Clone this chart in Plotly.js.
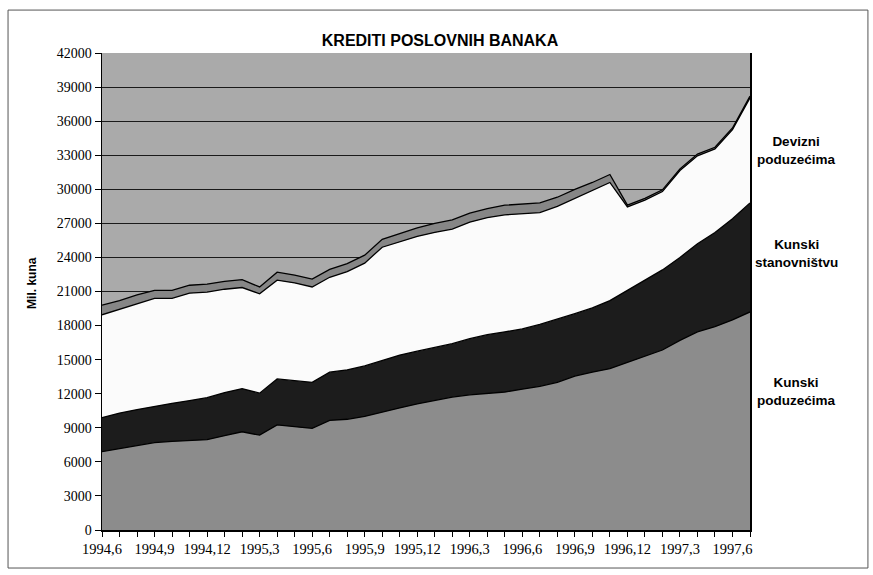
<!DOCTYPE html>
<html>
<head>
<meta charset="utf-8">
<script src="https://cdn.plot.ly/plotly-3.0.1.min.js"></script>
<style>
  html, body { margin: 0; padding: 0; background: #ffffff; }
  #chart { width: 873px; height: 575px; }
</style>
</head>
<body>
<div id="chart"></div>
<script>
// Categories: monthly, 1994,6 .. 1997,7
const months = [
  "1994,6","1994,7","1994,8","1994,9","1994,10","1994,11","1994,12",
  "1995,1","1995,2","1995,3","1995,4","1995,5","1995,6","1995,7","1995,8","1995,9","1995,10","1995,11","1995,12",
  "1996,1","1996,2","1996,3","1996,4","1996,5","1996,6","1996,7","1996,8","1996,9","1996,10","1996,11","1996,12",
  "1997,1","1997,2","1997,3","1997,4","1997,5","1997,6","1997,7"
];

// Series values (mil. kuna), stacked from bottom to top
const kunskiPoduzecima = [6900,7150,7450,7700,7800,7900,7950,8300,8650,8350,9250,9100,8950,9650,9750,10000,10400,10750,11100,11400,11700,11900,12050,12150,12400,12650,13000,13550,13900,14200,14750,15300,15850,16700,17450,17900,18500,19200];
const kunskiStanovnistvu = [3000,3150,3150,3200,3350,3500,3700,3800,3800,3700,4050,4050,4050,4250,4350,4450,4550,4650,4650,4650,4700,4950,5150,5300,5300,5450,5550,5500,5650,6000,6350,6700,7050,7300,7750,8300,8900,9600];
const devizniPoduzecima = [9050,9150,9350,9500,9250,9450,9300,9100,8900,8750,8700,8600,8400,8350,8650,9050,9950,10000,10100,10150,10100,10250,10300,10300,10150,9850,9950,10150,10350,10400,7350,7050,6900,7650,7750,7350,7850,9250];
const ostalo = [850,750,750,700,700,700,700,700,700,600,700,700,700,700,700,700,700,700,750,800,800,800,800,850,850,850,800,800,700,700,150,150,150,150,150,150,150,150];

// Tick labels every three months
const tickLabelStep = 3;
const yTicks = [0,3000,6000,9000,12000,15000,18000,21000,24000,27000,30000,33000,36000,39000,42000];

const idx = months.map((m, i) => i);
const tickText = months.map((m, i) => (i % tickLabelStep === 0 ? m : ""));

function layer(name, values, fill) {
  return {
    type: "scatter",
    mode: "lines",
    name: name,
    x: idx,
    y: values,
    stackgroup: "one",
    fillcolor: fill,
    line: { color: "#000000", width: 1.3, shape: "linear" },
    hoverinfo: "name+y",
    showlegend: false
  };
}

const data = [
  layer("Kunski poduzećima", kunskiPoduzecima, "#8c8c8c"),
  layer("Kunski stanovništvu", kunskiStanovnistvu, "#1c1c1c"),
  layer("Devizni poduzećima", devizniPoduzecima, "#fbfbfb"),
  layer("Ostalo", ostalo, "#868686")
];

const serif = "Liberation Serif, Times New Roman, serif";
const sans = "Liberation Sans, Arial, sans-serif";

const layout = {
  width: 873,
  height: 575,
  margin: { l: 102, r: 123, t: 53, b: 45, pad: 0 },
  paper_bgcolor: "#ffffff",
  plot_bgcolor: "#aaaaaa",
  showlegend: false,
  title: {
    text: "<b>KREDITI POSLOVNIH BANAKA</b>",
    font: { family: sans, size: 16, color: "#000000" },
    x: 0.5216, xref: "paper", xanchor: "center",
    y: 0.930, yref: "container", yanchor: "middle"
  },
  xaxis: {
    type: "linear",
    range: [0, months.length - 1],
    tickmode: "array",
    tickvals: idx,
    ticktext: tickText,
    ticks: "outside",
    ticklen: 5,
    tickwidth: 1,
    tickcolor: "#000000",
    showgrid: false,
    zeroline: false,
    showline: true,
    linecolor: "#000000",
    linewidth: 1.5,
    mirror: false,
    tickfont: { family: serif, size: 14.5, color: "#000000" },
    fixedrange: true
  },
  yaxis: {
    range: [0, 42000],
    tickmode: "array",
    tickvals: yTicks,
    ticktext: yTicks.map(String),
    ticks: "outside",
    ticklen: 6,
    tickwidth: 1,
    tickcolor: "#000000",
    showgrid: true,
    gridcolor: "#1a1a1a",
    gridwidth: 1,
    zeroline: false,
    showline: true,
    linecolor: "#000000",
    linewidth: 1.5,
    mirror: true,
    tickfont: { family: serif, size: 14, color: "#000000" },
    fixedrange: true
  },
  annotations: [
    {
      text: "<b>Mil. kuna</b>", xref: "paper", yref: "paper",
      x: -0.108, y: 0.518, xanchor: "center", yanchor: "middle",
      textangle: -90, showarrow: false,
      font: { family: sans, size: 12, color: "#000000" }
    },
    {
      text: "<b>Devizni<br>poduzećima</b>", xref: "paper", yref: "paper",
      x: 1.0725, y: 0.7966, xanchor: "center", yanchor: "middle",
      showarrow: false, align: "center",
      font: { family: sans, size: 13.5, color: "#000000" }
    },
    {
      text: "<b>Kunski<br>stanovništvu</b>", xref: "paper", yref: "paper",
      x: 1.0725, y: 0.5797, xanchor: "center", yanchor: "middle",
      showarrow: false, align: "center",
      font: { family: sans, size: 13.5, color: "#000000" }
    },
    {
      text: "<b>Kunski<br>poduzećima</b>", xref: "paper", yref: "paper",
      x: 1.0725, y: 0.2904, xanchor: "center", yanchor: "middle",
      showarrow: false, align: "center",
      font: { family: sans, size: 13.5, color: "#000000" }
    }
  ],
  shapes: [
    {
      type: "rect", xref: "paper", yref: "paper",
      x0: -0.145, x1: 1.182, y0: -0.0797, y1: 1.090,
      line: { color: "#555555", width: 1 },
      fillcolor: "rgba(0,0,0,0)",
      layer: "below"
    }
  ]
};

Plotly.newPlot("chart", data, layout, { displayModeBar: false, staticPlot: true });
</script>
</body>
</html>
